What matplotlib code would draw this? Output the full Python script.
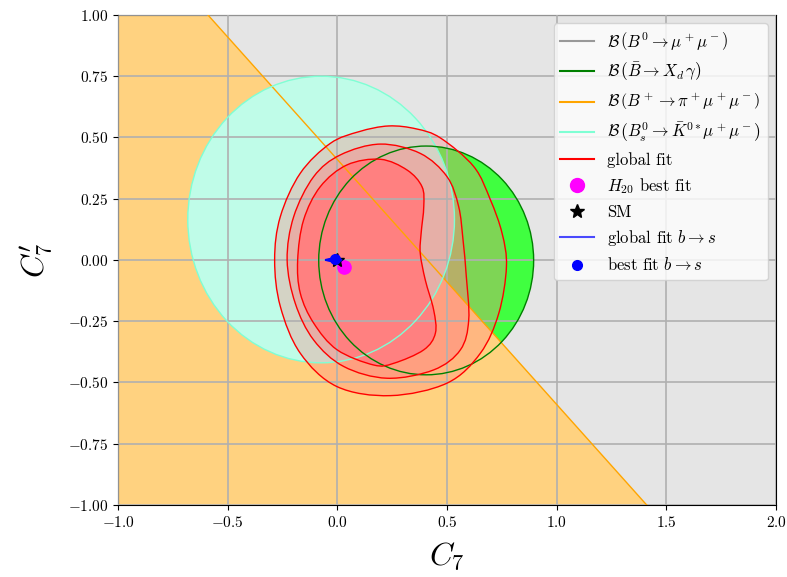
import numpy as np
import matplotlib
matplotlib.use("Agg")
import matplotlib.pyplot as plt
from matplotlib.path import Path
from matplotlib.patches import PathPatch, Ellipse
from matplotlib.lines import Line2D

plt.rcParams['font.family'] = 'serif'
plt.rcParams['font.serif'] = ['cmr10']
plt.rcParams['mathtext.fontset'] = 'cm'
plt.rcParams['axes.formatter.use_mathtext'] = True

# plot window
xlim = [-1.0, 2.0]
ylim = [-1.0, 1.0]

# B+ -> pi mu mu : allowed below the line
orange_x = [-0.59, 1.41]
orange_y = [1.0, -1.0]

# Bs -> K* mu mu : ellipse (centre, half widths)
cyan_c = (-0.074, 0.165)
cyan_r = (0.608, 0.585)

# B -> X_d gamma
green_c = (0.405, -0.002)
green_r = (0.49, 0.467)

# global fit contours
fit3_x = [-0.286, -0.26, -0.169, -0.032, 0.1, 0.234, 0.36, 0.47, 0.622, 0.698, 0.751, 0.771,
          0.736, 0.652, 0.5, 0.242, -0.002, -0.169, -0.26]
fit3_y = [0.0, 0.177, 0.354, 0.476, 0.524, 0.547, 0.535, 0.498, 0.381, 0.245, 0.109, -0.027,
          -0.218, -0.381, -0.503, -0.554, -0.517, -0.381, -0.19]
fit2_x = [-0.229, -0.199, -0.108, 0.014, 0.196, 0.378, 0.5, 0.553, 0.573, 0.588,
          0.599, 0.561, 0.439, 0.227, 0.029, -0.108, -0.192]
fit2_y = [0.0, 0.177, 0.34, 0.429, 0.473, 0.435, 0.34, 0.218, 0.082, -0.068,
          -0.245, -0.367, -0.449, -0.483, -0.435, -0.327, -0.177]
fit1_x = [-0.181, -0.154, -0.078, 0.044, 0.196, 0.318, 0.386, 0.394, 0.382, 0.378,
          0.401, 0.439, 0.447, 0.394, 0.257, 0.166, -0.001, -0.108, -0.169]
fit1_y = [0.0, 0.163, 0.299, 0.388, 0.411, 0.367, 0.299, 0.218, 0.109, 0.027,
          -0.082, -0.204, -0.299, -0.367, -0.422, -0.429, -0.367, -0.258, -0.136]

# b -> s fit (tiny)
bs_x = [-0.055, -0.03, 0.0, 0.02, 0.0, -0.03]
bs_y = [0.0, 0.006, 0.008, 0.0, -0.008, -0.006]

h20_best = (0.03, -0.03)
sm_point = (0.0, 0.0)
bs_best = (-0.01, 0.002)


def smooth_path(xs, ys):
    p = np.column_stack([xs, ys])
    n = len(p)
    verts = [p[0]]
    codes = [Path.MOVETO]
    for i in range(n):
        p0, p1, p2, p3 = p[i - 1], p[i], p[(i + 1) % n], p[(i + 2) % n]
        verts += [p1 + (p2 - p0) / 6, p2 - (p3 - p1) / 6, p2]
        codes += [Path.CURVE4] * 3
    verts.append(p[0])
    codes.append(Path.CLOSEPOLY)
    return Path(verts, codes)


fig = plt.figure(figsize=(7.87, 5.77), dpi=100)
ax = fig.add_axes([0.15, 0.125, 0.836, 0.849])

# fills
ax.fill_between(xlim, ylim[0], ylim[1], color='#e5e5e5', lw=0, zorder=0.1)
ax.add_patch(Ellipse(green_c, 2 * green_r[0], 2 * green_r[1], fc='#40ff40', ec='none', zorder=0.2))
ax.fill([xlim[0], orange_x[0], orange_x[1], xlim[0]], [orange_y[0], orange_y[0], orange_y[1], orange_y[1]],
        color='#ffd280', lw=0, zorder=0.3)
ax.add_patch(Ellipse(cyan_c, 2 * cyan_r[0], 2 * cyan_r[1], fc='#bffce8', ec='none', zorder=0.4))
ax.add_patch(PathPatch(smooth_path(fit3_x, fit3_y), fc='#ff8080', alpha=0.33, ec='none', zorder=0.5))
ax.add_patch(PathPatch(smooth_path(fit2_x, fit2_y), fc='#ff8080', alpha=0.43, ec='none', zorder=0.6))
ax.add_patch(PathPatch(smooth_path(fit1_x, fit1_y), fc='#ff8080', ec='none', zorder=0.7))

# edges
ax.plot(orange_x, orange_y, color='orange', lw=1, zorder=3)
ax.add_patch(Ellipse(cyan_c, 2 * cyan_r[0], 2 * cyan_r[1], fc='none', ec='aquamarine', lw=1, zorder=3))
ax.add_patch(Ellipse(green_c, 2 * green_r[0], 2 * green_r[1], fc='none', ec='green', lw=1, zorder=3))
for fx, fy in [(fit3_x, fit3_y), (fit2_x, fit2_y), (fit1_x, fit1_y)]:
    ax.add_patch(PathPatch(smooth_path(fx, fy), fc='none', ec='red', lw=1, zorder=3))

ax.plot(*h20_best, 'o', color='magenta', ms=9.5, zorder=4)
ax.plot(*sm_point, '*', color='black', ms=10, zorder=5)
ax.add_patch(PathPatch(smooth_path(bs_x, bs_y), fc='blue', ec='blue', lw=1, zorder=6))
ax.plot(*bs_best, 'o', color='blue', ms=7, zorder=7)

ax.set_xlim(xlim)
ax.set_ylim(ylim)
ax.set_xticks(np.arange(-1.0, 2.01, 0.5))
ax.set_yticks(np.arange(-1.0, 1.01, 0.25))
ax.set_axisbelow(False)
ax.grid(True, color='#b0b0b0', lw=1.2)
ax.tick_params(labelsize=11)
ax.set_xlabel(r'$C_7$', fontsize=23, labelpad=8)
ax.set_ylabel(r"$C_7'$", fontsize=23, labelpad=9)

handles = [
    Line2D([], [], color='#999999', label=r'$\mathcal{B}\,\left(B^0\to\mu^+\mu^-\right)$'),
    Line2D([], [], color='green', label=r'$\mathcal{B}\,\left(\bar{B}\to X_d\,\gamma\right)$'),
    Line2D([], [], color='orange', label=r'$\mathcal{B}\,\left(B^+\to\pi^+\mu^+\mu^-\right)$'),
    Line2D([], [], color='aquamarine', label=r'$\mathcal{B}\,\left(B_s^0\to\bar{K}^{0*}\mu^+\mu^-\right)$'),
    Line2D([], [], color='red', label='global fit'),
    Line2D([], [], marker='o', ls='none', color='magenta', ms=10, label=r'$H_{20}$ best fit'),
    Line2D([], [], marker='*', ls='none', color='black', ms=10, label='SM'),
    Line2D([], [], color='blue', alpha=0.7, label=r'global fit $b\to s$'),
    Line2D([], [], marker='o', ls='none', color='blue', ms=7, label=r'best fit $b\to s$'),
]
ax.legend(handles=handles, loc='upper right', fontsize=12)

fig.savefig('out.png', dpi=100)
